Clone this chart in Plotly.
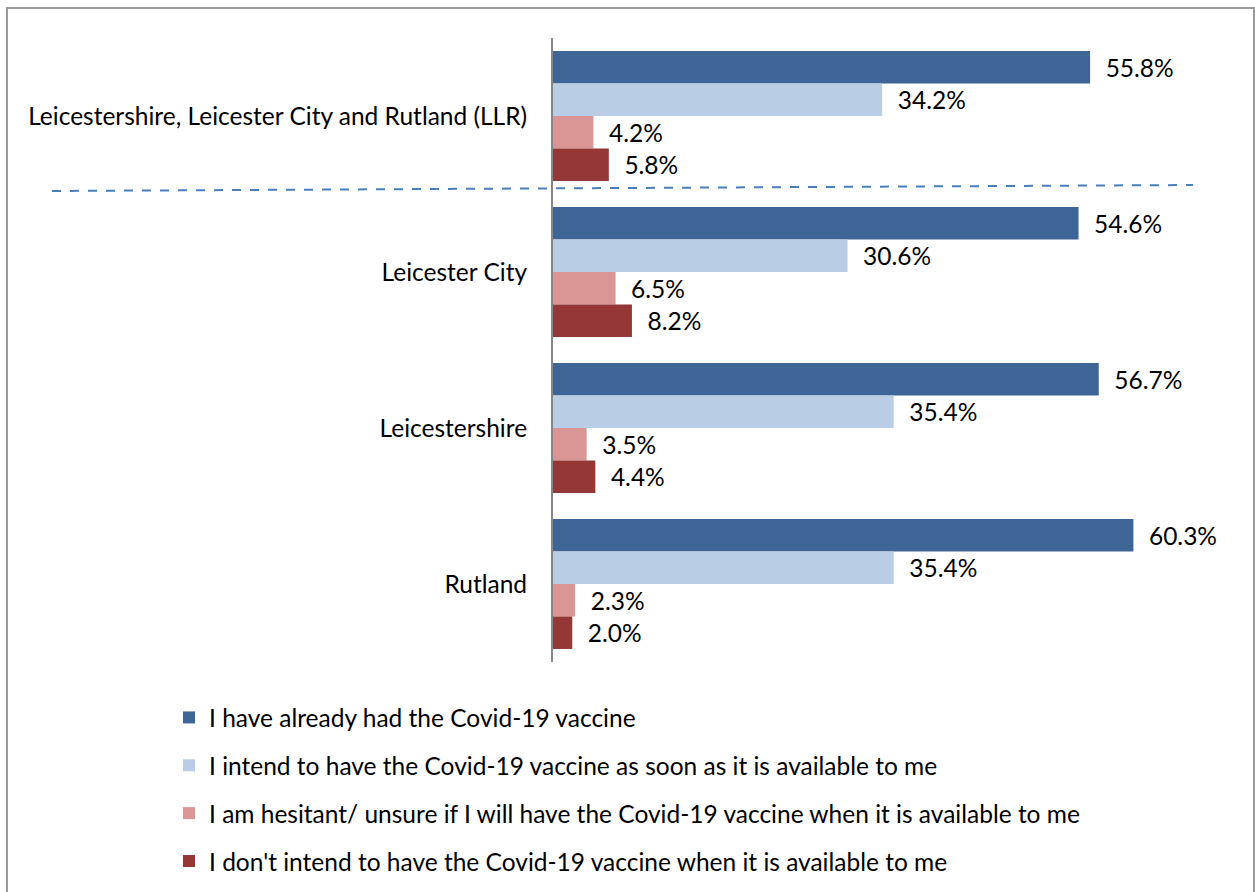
import plotly.graph_objects as go

# Survey areas, top to bottom
areas = [
    "Leicestershire, Leicester City and Rutland (LLR)",
    "Leicester City",
    "Leicestershire",
    "Rutland",
]

# Response options (series)
responses = [
    "I have already had the Covid-19 vaccine",
    "I intend to have the Covid-19 vaccine as soon as it is available to me",
    "I am hesitant/ unsure if I will have the Covid-19 vaccine when it is available to me",
    "I don't intend to have the Covid-19 vaccine when it is available to me",
]

# Percentages per response, in area order
already_had = [55.8, 54.6, 56.7, 60.3]
intend = [34.2, 30.6, 35.4, 35.4]
hesitant = [4.2, 6.5, 3.5, 2.3]
dont_intend = [5.8, 8.2, 4.4, 2.0]

series = [already_had, intend, hesitant, dont_intend]
colors = ["#3D6596", "#B9CDE5", "#D99694", "#953735"]

FONT = "Lato"
FS = 24.5
W, H = 1255, 892
L, R, T, B = 553, 60, 38, 230
PW, PH = W - L - R, H - T - B


def px_x(p):
    return (p - L) / PW


def px_y(p):
    return (H - B - p) / PH


fig = go.Figure()
for i, (name, vals, col) in enumerate(zip(responses, series, colors)):
    fig.add_trace(go.Bar(
        y=areas,
        x=vals,
        name=name,
        orientation="h",
        marker=dict(color=col, line=dict(width=0)),
        text=[f"\u00a0\u00a0{v:.1f}%" for v in vals],
        textposition="outside",
        textfont=dict(family=FONT, size=FS, color="#000000"),
        cliponaxis=False,
        legendgroup=f"g{i}",
        hoverinfo="skip",
    ))

fig.update_layout(
    width=W,
    height=H,
    margin=dict(l=L, r=R, t=T, b=B, autoexpand=False),
    paper_bgcolor="white",
    plot_bgcolor="white",
    barmode="group",
    bargap=0.167,
    bargroupgap=0,
    font=dict(family=FONT, size=FS, color="#000000"),
    showlegend=True,
    legend=dict(
        orientation="v",
        x=px_x(169),
        xanchor="left",
        y=px_y(695),
        yanchor="top",
        font=dict(family=FONT, size=FS, color="#000000"),
        tracegroupgap=13,
        itemwidth=30,
        bgcolor="rgba(0,0,0,0)",
    ),
    xaxis=dict(
        range=[0, 66.7],
        visible=False,
        showgrid=False,
        zeroline=False,
    ),
    yaxis=dict(
        autorange="reversed",
        showgrid=False,
        zeroline=False,
        showline=True,
        linecolor="#868686",
        linewidth=2,
        ticks="",
        ticklabelstandoff=19,
        tickfont=dict(family=FONT, size=FS, color="#000000"),
    ),
    shapes=[
        # outer frame
        dict(type="rect", xref="paper", yref="paper",
             x0=px_x(7), x1=px_x(1254), y0=px_y(900), y1=px_y(8),
             line=dict(color="#9A9A9A", width=2), fillcolor="rgba(0,0,0,0)",
             layer="below"),
        # dashed separator between the LLR total and its areas
        dict(type="line", xref="paper", yref="paper",
             x0=px_x(52), y0=px_y(191), x1=px_x(1193), y1=px_y(185),
             line=dict(color="#4A7EBB", width=2, dash="dash")),
    ],
)

fig.write_html("out.html")
